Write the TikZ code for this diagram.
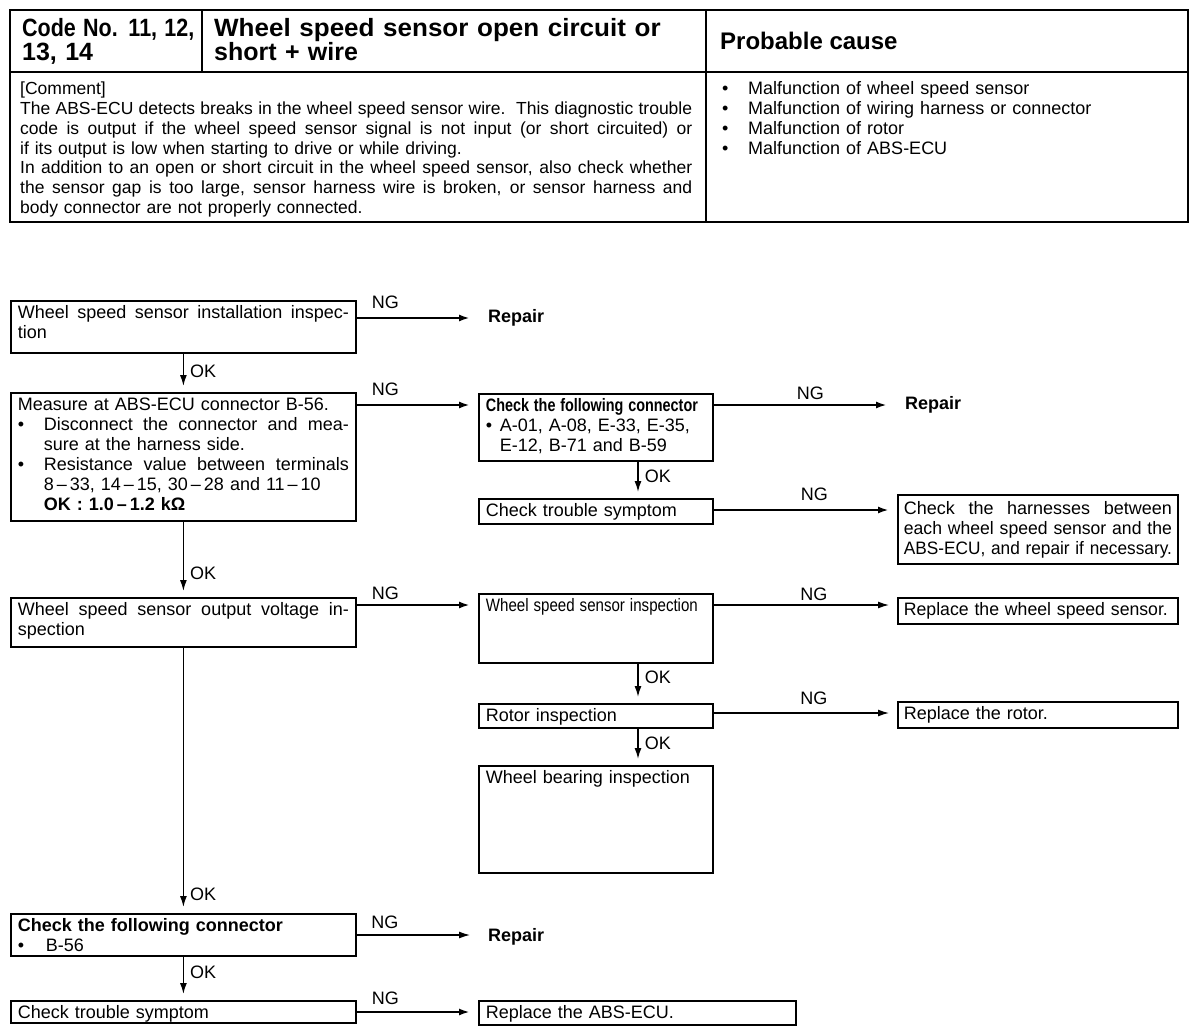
\documentclass[tikz,border=0pt]{standalone}
\usepackage{fontspec}
\setmainfont{Liberation Sans}
\usepackage{graphicx}
\usetikzlibrary{arrows.meta,positioning}
% one justified line across the text width
\newcommand{\jline}[1]{\leavevmode\hbox to\linewidth{\spaceskip=0.278em plus 0.5em minus 0.08em\relax #1}}

\begin{document}
\begin{tikzpicture}[x=1pt, y=-1pt,
  every node/.style={font=\fontsize{18}{20}\selectfont},
  hdr/.style={font=\bfseries\fontsize{25}{24}\selectfont, anchor=base west, inner sep=0pt, align=left},
  txt/.style={anchor=base west, inner sep=0pt, align=left},
  box/.style={draw, line width=1.8pt, anchor=north west, align=left, inner xsep=7pt, inner ysep=0pt, text height=18pt},
  rep/.style={font=\bfseries\fontsize{18}{20}\selectfont, anchor=west, inner sep=3pt},
  lbl/.style={inner sep=2pt},
  tblframe/.style={line width=2.6pt},
  tblrule/.style={line width=1.5pt},
  ngarrow/.style={->, line width=2.2pt, shorten >=8pt},
  thinarrow/.style={->, line width=1.3pt, shorten >=8pt},
  okarrow/.style={->, line width=1.5pt, shorten >=6pt},
  >={Latex[length=11pt,width=7pt]}
]
\useasboundingbox (0,0) rectangle (1200,1030);

% code table
\draw[tblframe] (10,10) rectangle (1188,222);
\draw[tblrule] (10,72) -- (1188,72);
\draw[tblrule] (202,10) -- (202,72);
\draw[tblrule] (706,10) -- (706,222);

\node[hdr, text width=200pt] (code) at (22,37) {\scalebox{0.86}[1]{Code No. 11, 12,}\\13, 14};
\node[hdr, text width=480pt] (title) at (214,37) {\scalebox{1.04}[1]{Wheel speed sensor open circuit or}\\short + wire};
\node[hdr, font=\bfseries\fontsize{24}{24}\selectfont] (cause) at (720,50) {Probable cause};

\node[txt, text width=672pt, font=\fontsize{17.5}{19.7}\selectfont] (comment) at (20,95) {[Comment]\\
\jline{The ABS-ECU detects breaks in the wheel speed sensor wire.\ \ This diagnostic trouble}\\
\jline{code is output if the wheel speed sensor signal is not input (or short circuited) or}\\
if its output is low when starting to drive or while driving.\\
\jline{In addition to an open or short circuit in the wheel speed sensor, also check whether}\\
\jline{the sensor gap is too large, sensor harness wire is broken, or sensor harness and}\\
body connector are not properly connected.};

\node[txt, text width=440pt] (causes) at (722,95) {\makebox[26pt][l]{\textbullet}Malfunction of wheel speed sensor\\
\makebox[26pt][l]{\textbullet}Malfunction of wiring harness or connector\\
\makebox[26pt][l]{\textbullet}Malfunction of rotor\\
\makebox[26pt][l]{\textbullet}Malfunction of ABS-ECU};

% flow chart
\node[box, text width=331pt, text depth=34pt] (inst) at (10,300) {\jline{Wheel speed sensor installation inspec-}\\tion};
\node[rep] (rep1) at (485,318) {Repair};

\node[box, text width=331pt, text depth=110pt] (meas) at (10,392) {Measure at ABS-ECU connector B-56.\\
\jline{\makebox[26pt][l]{\textbullet}Disconnect the connector and mea-}\\
\hspace*{26pt}sure at the harness side.\\
\jline{\makebox[26pt][l]{\textbullet}Resistance value between terminals}\\
\hspace*{26pt}8\,--\,33, 14\,--\,15, 30\,--\,28 and 11\,--\,10\\
\hspace*{26pt}\textbf{OK : 1.0\,--\,1.2 kΩ}};

\node[box, text width=220pt, text depth=49pt] (conn) at (478,393) {\scalebox{0.8}[1]{\textbf{Check the following connector}}\\
\makebox[14pt][l]{\textbullet}A-01, A-08, E-33, E-35,\\
\hspace*{14pt}E-12, B-71 and B-59};
\node[rep] (rep2) at (902,405) {Repair};

\node[box, text width=220pt, text depth=7pt] (sym) at (478,498) {Check trouble symptom};
\node[box, text width=268pt, inner xsep=6pt, text height=20pt, text depth=49pt] (harn) at (897,494) {\jline{Check the harnesses between}\\
\resizebox{\linewidth}{\height}{each wheel speed sensor and the}\\
\resizebox{\linewidth}{\height}{ABS-ECU, and repair if necessary.}};

\node[box, text width=331pt, text depth=31pt] (volt) at (10,597) {\jline{Wheel speed sensor output voltage in-}\\spection};
\node[box, text width=220pt, text depth=51pt] (sens) at (478,593) {\resizebox{212pt}{\height}{Wheel speed sensor inspection}};
\node[box, text width=268pt, inner xsep=6pt, text depth=8pt] (repsens) at (897,597) {\resizebox{264pt}{\height}{Replace the wheel speed sensor.}};
\node[box, text width=220pt, text depth=6pt] (rotor) at (478,703) {Rotor inspection};
\node[box, text width=268pt, inner xsep=6pt, text depth=8pt] (reprotor) at (897,701) {Replace the rotor.};
\node[box, text width=220pt, text depth=89pt] (bear) at (478,765) {Wheel bearing inspection};

\node[box, text width=331pt, text depth=24pt] (conn2) at (10,913) {\textbf{Check the following connector}\\
\makebox[28pt][l]{\textbullet}B-56};
\node[rep] (rep3) at (485,937) {Repair};
\node[box, text width=331pt, text depth=4pt] (sym2) at (10,1000) {Check trouble symptom};
\node[box, text width=303pt, text depth=6pt] (repecu) at (478,1000) {Replace the ABS-ECU.};

% NG branches
\coordinate (n1) at ([yshift=-18pt]inst.north east);
\coordinate (n2) at ([yshift=-13pt]meas.north east);
\coordinate (n3) at ([yshift=-12pt]conn.north east);
\coordinate (n4) at ([yshift=-12pt]sym.north east);
\coordinate (n5) at ([yshift=-8pt]volt.north east);
\coordinate (n6) at ([yshift=-12pt]sens.north east);
\coordinate (n7) at ([yshift=-10pt]rotor.north east);
\coordinate (n8) at ([yshift=-22pt]conn2.north east);
\coordinate (n9) at ([yshift=-12pt]sym2.north east);

\draw[ngarrow, shorten >=15pt] (n1) -- (n1 -| rep1.west) node[lbl, pos=0, anchor=south west, xshift=12pt, yshift=6pt] {NG};
\draw[ngarrow] (n2) -- (n2 -| conn.west) node[lbl, pos=0, anchor=south west, xshift=12pt, yshift=6pt] {NG};
\draw[ngarrow, shorten >=15pt] (n3) -- (n3 -| rep2.west) node[lbl, pos=0, anchor=south west, xshift=80pt, yshift=2pt] {NG};
\draw[ngarrow] (n4) -- (n4 -| harn.west) node[lbl, pos=0, anchor=south west, xshift=84pt, yshift=6pt] {NG};
\draw[ngarrow] (n5) -- (n5 -| sens.west) node[lbl, pos=0, anchor=south west, xshift=12pt, yshift=2pt] {NG};
\draw[thinarrow] (n6) -- (n6 -| repsens.west) node[lbl, pos=0, anchor=south west, xshift=84pt, yshift=2pt] {NG};
\draw[thinarrow] (n7) -- (n7 -| reprotor.west) node[lbl, pos=0, anchor=south west, xshift=84pt, yshift=6pt] {NG};
\draw[thinarrow, shorten >=15pt] (n8) -- (n8 -| rep3.west) node[lbl, pos=0, anchor=south west, xshift=12pt, yshift=4pt] {NG};
\draw[ngarrow] (n9) -- (n9 -| repecu.west) node[lbl, pos=0, anchor=south west, xshift=12pt, yshift=4pt] {NG};

% OK branches
\draw[okarrow] (inst.south) -- (meas.north) node[lbl, pos=.45, right, xshift=4pt] {OK};
\draw[okarrow] (meas.south) -- (volt.north) node[lbl, pos=.68, right, xshift=4pt] {OK};
\draw[okarrow] (volt.south) -- (conn2.north) node[lbl, pos=.93, right, xshift=4pt] {OK};
\draw[okarrow] (conn2.south) -- (sym2.north) node[lbl, pos=.35, right, xshift=4pt] {OK};
\draw[okarrow] ([xshift=160pt]conn.south west) -- ([xshift=160pt]sym.north west) node[lbl, pos=.4, right, xshift=4pt] {OK};
\draw[okarrow] ([xshift=160pt]sens.south west) -- ([xshift=160pt]rotor.north west) node[lbl, pos=.35, right, xshift=4pt] {OK};
\draw[okarrow] ([xshift=160pt]rotor.south west) -- ([xshift=160pt]bear.north west) node[lbl, pos=.4, right, xshift=4pt] {OK};
\end{tikzpicture}
\end{document}
